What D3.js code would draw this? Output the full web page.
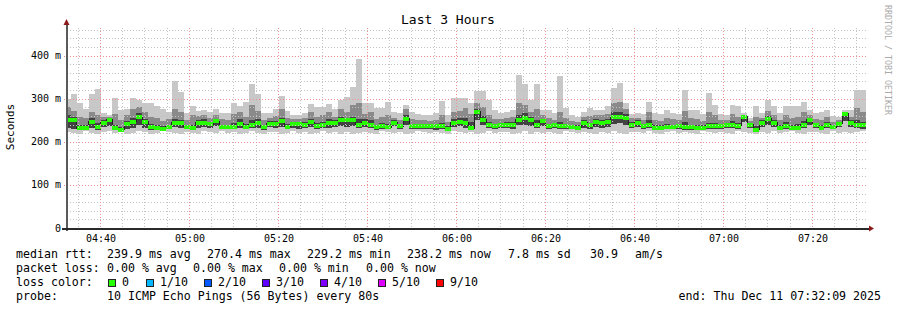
<!DOCTYPE html>
<html>
<head>
<meta charset="utf-8">
<script src="https://cdn.jsdelivr.net/npm/d3@7"></script>
<style>
  body { margin: 0; background: #fff; }
  svg text { font-family: "DejaVu Sans Mono", monospace; }
</style>
</head>
<body>
<div id="chart"></div>
<script>
// one column every 80s, 135 columns over 3 hours (values in ms)
const median = [
  250,250,232,232,246,235,244,251,232,228, 241,246,258,246,235,232,230,235,244,244,
  235,232,244,244,241,248,235,234,235,242, 235,240,244,235,242,242,248,235,241,241,
  240,245,237,239,243,244,250,250,250,240, 244,240,235,236,234,244,236,253,237,237,
  237,236,236,236,230,244,247,244,232,270, 251,240,237,238,240,240,251,255,251,240,
  248,237,238,237,237,235,233,244,238,247, 244,246,258,258,256,240,244,237,240,233,
  233,234,234,237,234,234,233,233,237,237, 237,239,240,237,258,240,228,244,253,244,
  233,237,233,233,240,251,239,233,240,234, 242,265,244,240,238
];
const pingMin = [
  222,220,218,224,221,219,223,225,220,222, 218,221,224,223,219,221,224,222,220,217,
  223,221,218,224,222,220,225,221,223,219, 221,224,220,218,223,222,219,221,224,220,
  222,218,221,224,220,223,219,222,217,220, 223,221,218,224,222,220,223,219,221,224,
  222,220,223,221,218,224,222,220,223,219, 221,224,220,223,222,218,221,224,219,222,
  220,223,221,218,224,222,220,223,221,219, 222,220,224,221,218,223,222,220,224,221,
  219,222,224,220,223,221,218,224,222,220, 223,221,219,224,222,220,218,223,221,224,
  220,222,224,221,219,223,222,220,218,224, 221,223,220,222,224
];
const pingLow = [
  232,230,227,229,232,228,234,236,228,225, 230,233,238,233,228,229,228,230,234,232,
  229,228,232,234,231,236,230,229,230,233, 229,232,233,228,234,231,235,229,232,230,
  231,234,230,232,233,234,236,235,237,231, 234,231,228,230,229,236,229,240,230,229,
  230,229,228,230,226,234,236,233,227,250, 238,232,230,231,232,230,238,240,237,232,
  236,229,231,229,230,229,228,233,230,235, 233,235,242,244,240,232,234,230,232,228,
  228,229,229,230,228,228,227,228,230,230, 230,231,232,230,245,233,225,234,240,234,
  228,230,228,228,232,238,231,228,232,229, 234,248,234,231,230
];
const pingMid = [
  262,258,240,238,256,244,250,256,240,234, 248,256,266,254,242,238,236,240,252,250,
  240,240,250,252,246,254,240,240,244,252, 242,250,252,240,248,248,256,242,246,246,
  246,252,244,246,252,250,258,256,258,252, 252,250,240,244,242,250,242,262,242,242,
  242,242,242,244,236,252,256,256,245,276, 260,246,242,244,246,246,262,266,258,250,
  254,242,244,246,242,240,238,250,244,252, 250,252,268,270,264,246,250,242,250,238,
  238,242,240,242,246,240,240,238,244,244, 242,244,248,244,262,244,236,250,260,250,
  240,246,240,242,248,256,244,238,246,238, 246,268,250,250,246
];
const pingHigh = [
  280,272,258,255,270,262,258,258,265,250, 262,275,280,268,258,255,248,252,275,268,
  250,262,260,262,255,262,252,250,265,268, 258,285,272,250,256,260,276,255,252,254,
  255,270,258,262,268,258,275,268,285,290, 265,270,252,258,262,256,250,275,252,250,
  250,248,250,262,245,268,272,278,265,290, 280,262,252,252,255,258,290,285,270,275,
  262,255,250,268,255,248,245,258,260,262, 262,265,290,292,275,255,256,250,270,250,
  248,255,252,250,272,255,252,248,268,262, 250,250,265,258,262,248,258,255,272,262,
  250,262,255,258,268,262,252,250,258,245, 250,270,258,278,270
];
const pingMax = [
  300,312,290,276,312,323,267,263,302,274, 275,302,298,290,290,282,275,268,342,316,
  267,282,272,274,268,276,267,266,290,282, 292,335,310,267,267,276,307,271,263,263,
  267,288,281,281,288,276,298,305,328,393, 290,290,279,279,293,270,267,286,270,265,
  263,263,267,295,263,302,302,302,290,318, 318,298,274,267,270,274,356,333,298,333,
  274,274,267,353,279,262,257,270,279,274, 274,282,325,337,290,265,267,264,293,267,
  264,274,267,264,321,274,274,264,313,286, 264,262,285,282,267,256,282,267,298,282,
  267,282,282,282,293,274,267,270,274,259, 258,274,274,321,321
];

const yTicks = [0, 100, 200, 300, 400];
const yTickLabels = ["0", "100 m", "200 m", "300 m", "400 m"];
const xTickLabels = ["04:40", "05:00", "05:20", "05:40", "06:00", "06:20", "06:40", "07:00", "07:20"];
const lossLabels = ["0", "1/10", "2/10", "3/10", "4/10", "5/10", "9/10"];
const lossColors = ["#26ff00", "#00b8ff", "#0059ff", "#5e00ff", "#7e00ff", "#dd00ff", "#ff0000"];
const rttParts = ["median rtt:", "239.9 ms avg", "270.4 ms max", "229.2 ms min", "238.2 ms now", "7.8 ms sd", "30.9", "am/s"];
const lossParts = ["packet loss:", "0.00 % avg", "0.00 % max", "0.00 % min", "0.00 % now"];
const probeParts = ["probe:", "10 ICMP Echo Pings (56 Bytes) every 80s"];
const endText = "end: Thu Dec 11 07:32:09 2025";

const W = 897, H = 310;
const plotLeft = 67, plotRight = 868, plotTop = 28, plotBottom = 228;
const start = new Date(2025, 11, 11, 4, 32, 9);
const end = new Date(2025, 11, 11, 7, 32, 9);
const step = 80 * 1000;

const x = d3.scaleTime().domain([start, end]).range([65, 866]);
const y = d3.scaleLinear().domain([0, 464]).range([plotBottom, plotTop]);

const cols = median.map((m, i) => ({
  t0: new Date(+start + i * step),
  t1: new Date(+start + (i + 1) * step),
  median: m, min: pingMin[i], low: pingLow[i], mid: pingMid[i], high: pingHigh[i], max: pingMax[i]
}));

const svg = d3.select("#chart").append("svg")
  .attr("width", W).attr("height", H);

svg.append("rect").attr("width", W).attr("height", H).attr("fill", "#fff");

svg.append("defs").append("clipPath").attr("id", "plot")
  .append("rect").attr("x", plotLeft).attr("y", plotTop)
  .attr("width", plotRight - plotLeft).attr("height", plotBottom - plotTop);

const plot = svg.append("g").attr("clip-path", "url(#plot)").attr("shape-rendering", "crispEdges");

// smoke bands
const bands = [
  { lo: "min", hi: "max", color: "#c8c8c8" },
  { lo: "low", hi: "high", color: "#8a8a8a" },
  { lo: "low", hi: "mid", color: "#424242" }
];
bands.forEach(b => {
  plot.append("g").selectAll("rect").data(cols).join("rect")
    .attr("x", d => Math.round(x(d.t0)))
    .attr("width", d => Math.round(x(d.t1)) - Math.round(x(d.t0)))
    .attr("y", d => Math.round(y(d[b.hi])))
    .attr("height", d => Math.round(y(d[b.lo])) - Math.round(y(d[b.hi])))
    .attr("fill", b.color);
});

// grid, drawn over the smoke
const grid = svg.append("g").attr("shape-rendering", "crispEdges");
const minorX = d3.timeMinute.every(5).range(start, end);
const minorY = d3.range(20, 464, 20).filter(v => v % 100 !== 0);
grid.selectAll(".mx").data(minorX.filter(t => t.getMinutes() % 20 !== 0)).join("line")
  .attr("x1", d => Math.round(x(d)) + 0.5).attr("x2", d => Math.round(x(d)) + 0.5)
  .attr("y1", plotTop).attr("y2", plotBottom)
  .attr("stroke", "#c2c2c2").attr("stroke-dasharray", "1,2");
grid.selectAll(".my").data(minorY).join("line")
  .attr("x1", plotLeft).attr("x2", plotRight)
  .attr("y1", d => Math.round(y(d)) + 0.5).attr("y2", d => Math.round(y(d)) + 0.5)
  .attr("stroke", "#c2c2c2").attr("stroke-dasharray", "1,2");

const xTicks = xTickLabels.map(s => {
  const [h, m] = s.split(":");
  return new Date(2025, 11, 11, +h, +m);
});
grid.selectAll(".Mx").data(xTicks).join("line")
  .attr("x1", d => Math.round(x(d)) + 0.5).attr("x2", d => Math.round(x(d)) + 0.5)
  .attr("y1", plotTop).attr("y2", plotBottom + 3)
  .attr("stroke", "#f09090").attr("stroke-dasharray", "1,2");
grid.selectAll(".My").data(yTicks.slice(1)).join("line")
  .attr("x1", plotLeft - 3).attr("x2", plotRight)
  .attr("y1", d => Math.round(y(d)) + 0.5).attr("y2", d => Math.round(y(d)) + 0.5)
  .attr("stroke", "#f09090").attr("stroke-dasharray", "1,2");

// median: dark step line with loss-coloured band on it
const medPts = cols.map(d => [x(d.t0), y(d.median)]);
medPts.push([x(end), y(median[median.length - 1])]);
plot.append("path")
  .attr("d", d3.line().curve(d3.curveStepAfter)(medPts))
  .attr("fill", "none").attr("stroke", "#202020").attr("stroke-width", 1);
plot.append("g").selectAll("rect").data(cols).join("rect")
  .attr("x", d => Math.round(x(d.t0)))
  .attr("width", d => Math.round(x(d.t1)) - Math.round(x(d.t0)))
  .attr("y", d => Math.round(y(d.median)) - 2)
  .attr("height", 4)
  .attr("fill", lossColors[0]);

// axes
const axisG = svg.append("g").attr("shape-rendering", "crispEdges");
axisG.append("line").attr("x1", plotLeft - 0.5).attr("x2", plotLeft - 0.5)
  .attr("y1", plotBottom + 3).attr("y2", 23)
  .attr("stroke", "#5a5a5a").attr("stroke-width", 2);
axisG.append("line").attr("x1", plotLeft - 5).attr("x2", plotRight + 1)
  .attr("y1", plotBottom + 0.5).attr("y2", plotBottom + 0.5)
  .attr("stroke", "#2a2a2a").attr("stroke-width", 2);
svg.append("path")
  .attr("d", `M${plotLeft - 3.5},25 L${plotLeft + 2.5},25 L${plotLeft - 0.5},19 Z`)
  .attr("fill", "#8b1a1a");
svg.append("path")
  .attr("d", `M${plotRight + 1},${plotBottom - 2.5} L${plotRight + 1},${plotBottom + 3.5} L${plotRight + 6},${plotBottom + 0.5} Z`)
  .attr("fill", "#8b1a1a");

svg.append("g").selectAll("text").data(yTicks).join("text")
  .attr("x", 61).attr("y", d => y(d) + 3.6)
  .attr("text-anchor", "end").attr("font-size", 10).attr("fill", "#000")
  .text((d, i) => yTickLabels[i]);

svg.append("g").selectAll("text").data(xTicks).join("text")
  .attr("x", d => x(d) + 1).attr("y", 241.5)
  .attr("text-anchor", "middle").attr("font-size", 10).attr("fill", "#000")
  .text((d, i) => xTickLabels[i]);

svg.append("text").attr("x", 448).attr("y", 24).attr("text-anchor", "middle")
  .attr("font-size", 13).attr("fill", "#000").text("Last 3 Hours");

svg.append("text").attr("transform", "translate(14,127) rotate(-90)")
  .attr("text-anchor", "middle").attr("font-size", 11).attr("fill", "#000").text("Seconds");

svg.append("text").attr("transform", "translate(885,5) rotate(90)")
  .attr("font-size", 8.3).attr("fill", "#aaaaaa").text("RRDTOOL / TOBI OETIKER");

// legend rows
const legend = svg.append("g").attr("font-size", 11.6).attr("fill", "#000");
const rttX = [16, 107, 207, 307, 407, 508, 590, 635];
legend.selectAll(".rtt").data(rttParts).join("text")
  .attr("x", (d, i) => rttX[i]).attr("y", 258).text(d => d);
const lossX = [16, 107, 193, 279, 366];
legend.selectAll(".pl").data(lossParts).join("text")
  .attr("x", (d, i) => lossX[i]).attr("y", 272).text(d => d);
legend.append("text").attr("x", 16).attr("y", 286).text("loss color:");
const probeX = [16, 107];
legend.selectAll(".pr").data(probeParts).join("text")
  .attr("x", (d, i) => probeX[i]).attr("y", 300).text(d => d);
legend.append("text").attr("x", 881).attr("y", 300).attr("text-anchor", "end").text(endText);

const boxX = [108, 146, 204, 262, 320, 378, 436];
const loss = svg.append("g");
loss.selectAll("rect").data(lossColors).join("rect")
  .attr("x", (d, i) => boxX[i] + 0.5).attr("y", 279.5).attr("width", 7).attr("height", 7)
  .attr("fill", d => d).attr("stroke", "#222").attr("stroke-width", 1);
loss.selectAll("text").data(lossLabels).join("text")
  .attr("x", (d, i) => boxX[i] + 14).attr("y", 286)
  .attr("font-size", 11.6).attr("fill", "#000")
  .text(d => d);
</script>
</body>
</html>
